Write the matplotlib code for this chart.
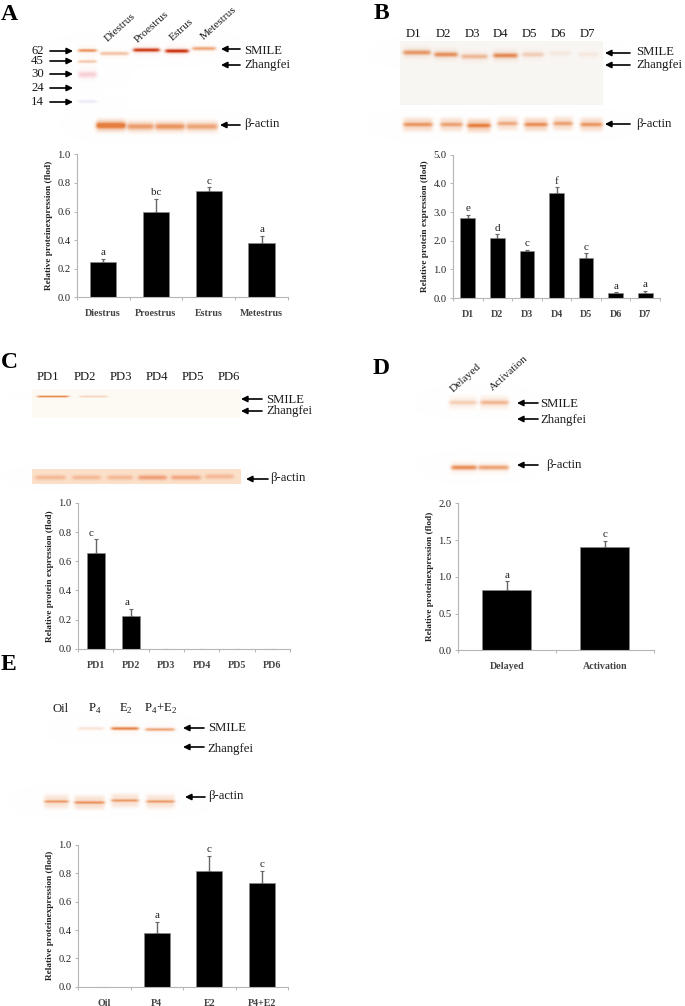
#! /usr/bin/env python3
# western blots and relative protein expression bars, panels A to E
import numpy as np
import matplotlib
matplotlib.use("Agg")
import matplotlib.pyplot as plt

W, H = 685, 1006

plt.rcParams['font.family'] = ['Liberation Serif', 'DejaVu Serif']
plt.rcParams['mathtext.fontset'] = 'custom'
plt.rcParams['mathtext.rm'] = 'Liberation Serif'

# bar charts
a_names = ["Diestrus", "Proestrus", "Estrus", "Metestrus"]
a_vals = [0.25, 0.60, 0.74, 0.38]
a_errs = [0.02, 0.09, 0.03, 0.05]
a_sig = ["a", "bc", "c", "a"]

b_names = ["D1", "D2", "D3", "D4", "D5", "D6", "D7"]
b_vals = [2.80, 2.10, 1.63, 3.68, 1.38, 0.18, 0.18]
b_errs = [0.10, 0.13, 0.05, 0.18, 0.18, 0.02, 0.07]
b_sig = ["e", "d", "c", "f", "c", "a", "a"]

c_names = ["PD1", "PD2", "PD3", "PD4", "PD5", "PD6"]
c_vals = [0.66, 0.225, 0, 0, 0, 0]
c_errs = [0.09, 0.05, 0, 0, 0, 0]
c_sig = ["c", "a", "", "", "", ""]

d_names = ["Delayed", "Activation"]
d_vals = [0.82, 1.40]
d_errs = [0.12, 0.09]
d_sig = ["a", "c"]

e_names = ["Oil", "P4", "E2", "P4+E2"]
e_vals = [0, 0.38, 0.82, 0.73]
e_errs = [0, 0.08, 0.105, 0.09]
e_sig = ["", "a", "c", "c"]

# blot lanes: left edge, right edge, centre row, strength
orange = (0.90, 0.50, 0.25)
red = (0.80, 0.22, 0.08)
peach = (0.94, 0.60, 0.45)

a_smile = [(100, 128, 53, 0.45), (133, 159, 49.5, 0.95), (165, 188, 50.5, 1.0), (192, 215, 48, 0.65)]
a_ladder = [(78, 96, 50, 0.8), (78, 96, 61, 0.4)]
a_actin = [(96, 125, 125, 0.95), (127, 153, 126, 0.6), (155, 184, 126, 0.65), (186, 217, 126, 0.55)]
b_smile = [(403, 430, 52, 0.7), (434, 457, 54, 0.75), (461, 487, 56, 0.45), (493, 517, 55, 0.8), (522, 543, 54, 0.3), (549, 570, 53, 0.1), (578, 598, 54, 0.1)]
b_actin = [(403, 432, 124, 0.55), (440, 462, 124, 0.5), (467, 490, 125, 0.7), (497, 517, 123, 0.45), (524, 547, 124, 0.6), (553, 572, 123, 0.5), (580, 602, 124, 0.55)]
c_smile = [(37, 68, 396, 0.9), (79, 107, 396, 0.3)]
c_actin = [(35, 65, 477, 0.45), (72, 100, 477, 0.45), (107, 132, 477, 0.45), (138, 166, 477, 0.75), (171, 200, 477, 0.65), (205, 233, 476, 0.45)]
d_smile = [(449, 476, 402, 0.28), (480, 508, 402, 0.42)]
d_actin = [(451, 476, 467, 0.8), (478, 508, 467, 0.65)]
e_smile = [(78, 103, 728, 0.2), (111, 138, 728, 0.9), (145, 174, 729, 0.65)]
e_actin = [(44, 68, 801, 0.55), (74, 104, 802, 0.6), (111, 138, 800, 0.55), (146, 174, 801, 0.55)]

# membrane backgrounds: left, right, top, bottom, colour
membranes = [(400, 603, 41, 105, (0.975, 0.965, 0.955)),
             (32, 241, 389, 418, (0.995, 0.98, 0.955)),
             (32, 241, 469, 484, (0.985, 0.88, 0.79))]


def add_band(img, x0, x1, y, strength, colour, thick=1.6, halo=0.0):
    """darken the canvas with one soft band"""
    xx, yy = np.meshgrid(np.arange(W), np.arange(H))
    edge = 0.5 * (np.tanh((xx - x0) / 2.0) - np.tanh((xx - x1) / 2.0))
    core = np.exp(-((yy - y) / thick) ** 2)
    wide = np.exp(-((yy - y) / 7.0) ** 4) * halo
    prof = np.clip(strength * edge * (core + wide), 0, 1)
    for i in range(3):
        img[:, :, i] = img[:, :, i] * (1 - prof) + colour[i] * prof * img[:, :, i]


def build_blots():
    img = np.ones((H, W, 3))
    for x0, x1, y0, y1, col in membranes:
        img[y0:y1, x0:x1] = col
    for row in a_smile:
        add_band(img, *row, red if row[3] > 0.9 else orange, 1.9, 0.04)
    for row in a_ladder:
        add_band(img, *row, orange, 1.6, 0.05)
    add_band(img, 78, 96, 74, 0.25, (0.9, 0.35, 0.45), 3.0, 0.15)
    add_band(img, 78, 96, 101, 0.18, (0.55, 0.55, 0.85), 1.5, 0.0)
    for row in a_actin:
        add_band(img, *row, orange, 3.0, 0.3)
    for row in b_smile:
        add_band(img, *row, orange, 2.4, 0.12)
    for row in b_actin:
        add_band(img, *row, orange, 2.0, 0.5)
    for row in c_smile:
        add_band(img, *row, orange, 1.0, 0.0)
    for row in c_actin:
        add_band(img, *row, peach, 2.4, 0.0)
    for row in d_smile:
        add_band(img, *row, orange, 2.2, 0.35)
    for row in d_actin:
        add_band(img, *row, orange, 2.4, 0.1)
    for row in e_smile:
        add_band(img, *row, orange, 1.6, 0.05)
    for row in e_actin:
        add_band(img, *row, orange, 1.4, 0.4)
    return img


def arrow(ax, x_tail, x_head, y):
    ax.annotate("", xy=(x_head, y), xytext=(x_tail, y),
                arrowprops=dict(arrowstyle="-|>", color="black", lw=1.2,
                                mutation_scale=9, shrinkA=0, shrinkB=0))


def label(ax, x, y, s, size=9.2, **kw):
    kw.setdefault("ha", "left")
    ax.text(x, y, s, fontsize=size, va="center", color="#1a1a1a", **kw)


def bar_chart(box, names, vals, errs, sig, ymax, step, ylab, dx=0.0):
    """box is left, right, top, bottom in pixels of the whole figure"""
    left, right, top, bottom = box
    ax = fig.add_axes([left / W, 1 - bottom / H, (right - left) / W, (bottom - top) / H])
    ax.patch.set_alpha(0)
    pos = np.arange(len(names))
    shown = [e if e > 0 else np.nan for e in errs]
    ax.bar(pos, vals, width=0.5, color="black", edgecolor="#888888", linewidth=0.5, zorder=2)
    ax.errorbar(pos, vals, yerr=[np.zeros(len(pos)), shown], fmt="none",
                ecolor="#666666", elinewidth=1.0, capsize=1.5, capthick=0.8, zorder=1)
    for i, s in enumerate(sig):
        if s:
            ax.annotate(s, (pos[i], vals[i] + errs[i]), xytext=(dx, 1.0),
                        textcoords="offset points", ha="center", va="bottom",
                        fontsize=8, color="#222222")
    ax.set_xlim(-0.5, len(names) - 0.5)
    ax.set_ylim(0, ymax)
    ax.spines["top"].set_visible(False)
    ax.spines["right"].set_visible(False)
    ax.spines["left"].set_color("#b5b5b5")
    ax.spines["bottom"].set_color("#b5b5b5")
    ax.set_yticks(np.arange(0, ymax + step / 2, step))
    ax.set_yticklabels(["%.1f" % t for t in np.arange(0, ymax + step / 2, step)], fontsize=7.6, color="#222222")
    ax.set_xticks(np.arange(len(names) + 1) - 0.5)
    ax.set_xticklabels([])
    ax.set_xticks(pos, minor=True)
    ax.set_xticklabels(names, minor=True, fontsize=7.2, fontweight="bold", color="#444444")
    ax.tick_params(axis="x", which="minor", length=0, pad=8.5)
    ax.tick_params(axis="both", which="major", length=2.5, width=0.7, color="#b5b5b5")
    ax.tick_params(axis="y", pad=2)
    ax.set_ylabel(ylab, fontsize=6.7, fontweight="bold", color="#222222", labelpad=3)
    return ax


fig = plt.figure(figsize=(W / 100, H / 100), dpi=100)
page = fig.add_axes([0, 0, 1, 1])
page.imshow(build_blots(), extent=(0, W, H, 0), aspect="auto", interpolation="bilinear")
page.set_xlim(0, W)
page.set_ylim(H, 0)
page.axis("off")

# panel letters
for s, x, y in [("A", 1, 14), ("B", 374, 13), ("C", 1, 363), ("D", 373, 368), ("E", 1, 665)]:
    page.text(x, y, s, fontsize=17, fontweight="bold", va="center", ha="left", color="black")

# panel A
for s, x, y in [("Diestrus", 120, 27), ("Proestrus", 152, 27), ("Estrus", 182, 30), ("Metestrus", 219, 23)]:
    label(page, x, y, s, size=8.2, ha="center", rotation=42)
for s, y in [("62", 51), ("45", 61), ("30", 74), ("24", 88), ("14", 102)]:
    label(page, 44, y, s, ha="right")
    arrow(page, 50, 73, y)
arrow(page, 240, 221, 49)
arrow(page, 240, 221, 65)
arrow(page, 240, 220, 125)
label(page, 244, 51, "SMILE")
label(page, 244, 65, "Zhangfei")
label(page, 244, 124, "β-actin")

# panel B
for s, x in zip(b_names, [414, 443, 472, 501, 529, 558, 587]):
    label(page, x, 34, s, ha="center")
arrow(page, 630, 605, 53)
arrow(page, 630, 605, 65)
arrow(page, 630, 605, 124)
label(page, 636, 52, "SMILE")
label(page, 636, 65, "Zhangfei")
label(page, 636, 124, "β-actin")

# panel C
for s, x in zip(c_names, [48, 85, 121, 157, 193, 229]):
    label(page, x, 377, s, ha="center")
arrow(page, 262, 241, 399)
arrow(page, 262, 241, 411)
arrow(page, 268, 246, 479)
label(page, 266, 400, "SMILE")
label(page, 266, 411, "Zhangfei")
label(page, 270, 478, "β-actin")

# panel D
label(page, 466, 378, "Delayed", size=8.2, ha="center", rotation=42)
label(page, 509, 373, "Activation", size=8.2, ha="center", rotation=42)
arrow(page, 538, 517, 403)
arrow(page, 538, 517, 419)
arrow(page, 538, 517, 465)
label(page, 540, 404, "SMILE")
label(page, 540, 420, "Zhangfei")
label(page, 546, 465, "β-actin")

# panel E
for s, x in [("Oil", 61), ("P$_{4}$", 95), ("E$_{2}$", 126), ("P$_{4}$+E$_{2}$", 161)]:
    label(page, x, 709, s, ha="center")
arrow(page, 204, 183, 728)
arrow(page, 204, 183, 747)
arrow(page, 205, 185, 797)
label(page, 208, 728, "SMILE")
label(page, 207, 749, "Zhangfei")
label(page, 208, 796, "β-actin")

squeezed = "Relative proteinexpression (flod)"
spaced = "Relative protein expression (flod)"
bar_chart((76.7, 288, 154.3, 297.3), a_names, a_vals, a_errs, a_sig, 1.0, 0.2, squeezed)
bar_chart((453, 660, 154.7, 298), b_names, b_vals, b_errs, b_sig, 5.0, 1.0, spaced)
bar_chart((78, 290, 503, 648.7), c_names, c_vals, c_errs, c_sig, 1.0, 0.2, spaced, dx=-3)
bar_chart((457.7, 654, 503.3, 650.3), d_names, d_vals, d_errs, d_sig, 2.0, 0.5, squeezed)
bar_chart((78, 288, 845, 986.7), e_names, e_vals, e_errs, e_sig, 1.0, 0.2, squeezed)

plt.savefig("out.png", dpi=100)
plt.close('all')
